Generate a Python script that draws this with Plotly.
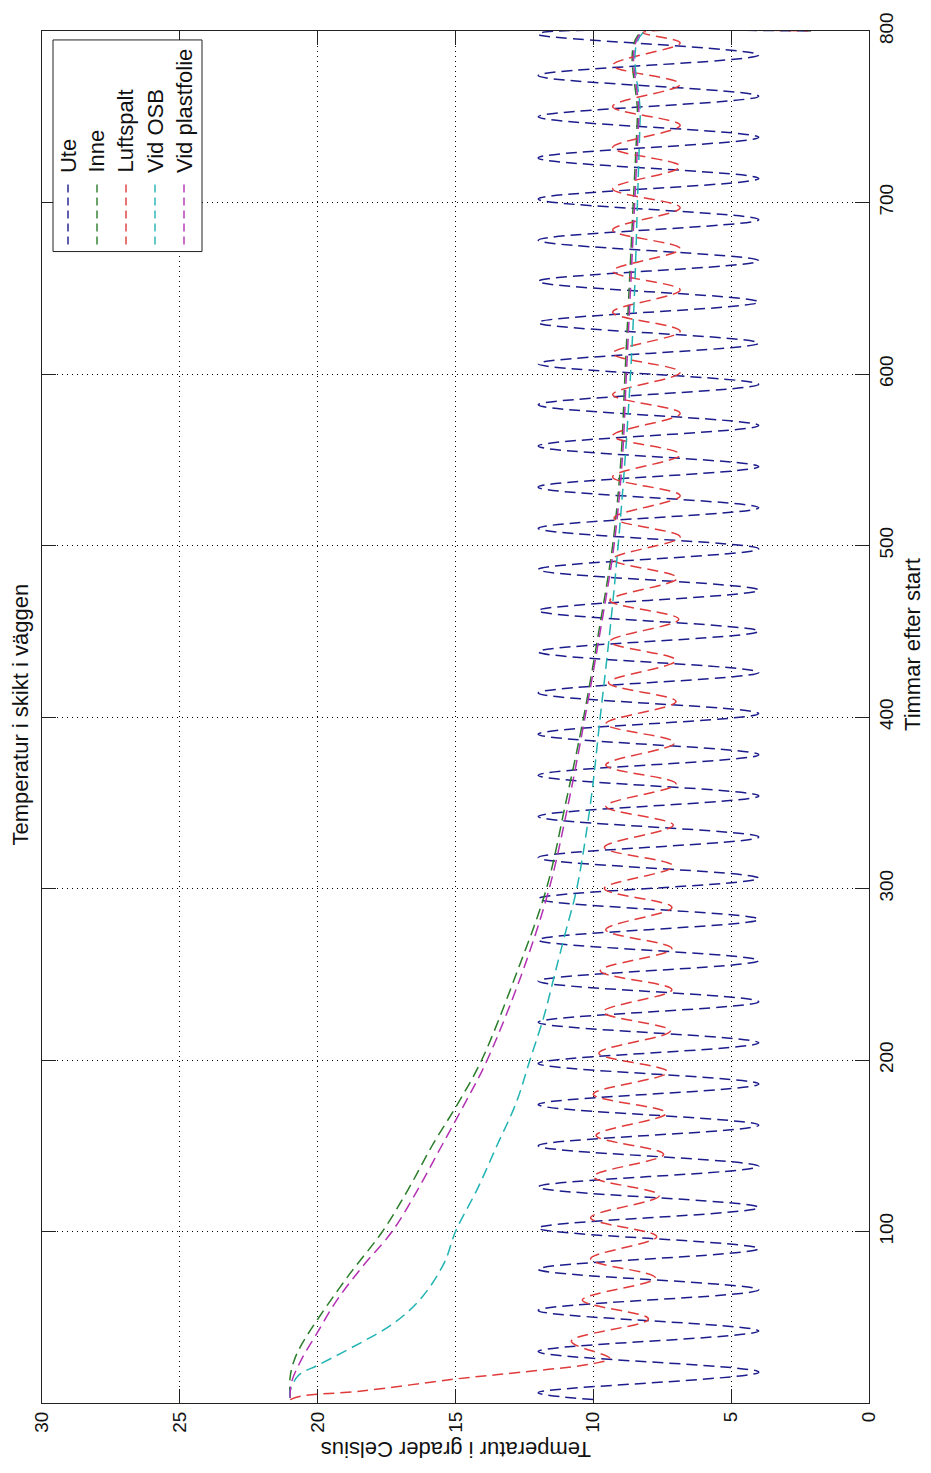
import plotly.graph_objects as go

# ---------------- data ----------------
series_names = ["Ute", "Inne", "Luftspalt", "Vid OSB", "Vid plastfolie"]

# Ute: outdoor temperature, turning points (hours, deg C)
ute_hours = [2, 6, 18, 30, 42, 54, 66, 78, 90, 102, 114, 126, 138, 150, 162, 174,
             186, 198, 210, 222, 234, 246, 258, 270, 282, 294, 306, 318, 330, 342,
             354, 366, 378, 390, 402, 414, 426, 438, 450, 462, 474, 486, 498, 510,
             522, 534, 546, 558, 570, 582, 594, 606, 618, 630, 642, 654, 666, 678,
             690, 702, 714, 726, 738, 750, 762, 774, 786, 798, 799, 800]
ute_temp = [10.0, 12.0, 4.0, 12.0, 4.0, 12.0, 4.0, 12.0, 4.0, 12.0, 4.0, 12.0, 4.0, 12.0, 4.0, 12.0,
            4.0, 12.0, 4.0, 12.0, 4.0, 12.0, 4.0, 12.0, 4.0, 12.0, 4.0, 12.0, 4.0, 12.0,
            4.0, 12.0, 4.0, 12.0, 4.0, 12.0, 4.0, 12.0, 4.0, 12.0, 4.0, 12.0, 4.0, 12.0,
            4.0, 12.0, 4.0, 12.0, 4.0, 12.0, 4.0, 12.0, 4.0, 12.0, 4.0, 12.0, 4.0, 12.0,
            4.0, 12.0, 4.0, 12.0, 4.0, 12.0, 4.0, 12.0, 4.0, 12.0, 11.9, 2.1]

# Inne
inne_hours = [3, 15, 25, 35, 50, 75, 100, 125, 150, 175, 200, 250, 300, 350,
              400, 450, 500, 550, 600, 650, 700, 750, 799, 800]
inne_temp = [21.0, 21.0, 20.85, 20.55, 19.95, 18.85, 17.65, 16.7, 15.85, 14.9, 14.05, 12.8, 11.7, 11.0,
             10.35, 9.8, 9.3, 9.0, 8.85, 8.7, 8.55, 8.4, 8.3, 2.1]

# Luftspalt: start drop then turning points
luft_hours = [2, 4, 7, 14, 18, 23, 26, 36, 49, 60, 73, 84, 97, 108, 121, 132, 145, 156,
              169, 180, 193, 204, 217, 228, 241, 252, 265, 276, 289, 300, 313, 324, 337,
              348, 361, 372, 385, 396, 409, 420, 433, 444, 457, 468, 481, 492, 505, 516,
              529, 540, 553, 564, 577, 588, 601, 612, 625, 636, 649, 660, 673, 684, 697,
              708, 721, 732, 745, 756, 769, 780, 793, 799, 800]
luft_temp = [21.0, 20.6, 18.4, 15.0, 12.6, 10.0, 9.4, 10.8, 8.0, 10.4, 7.75, 10.1, 7.7, 10.1, 7.6, 10.0, 7.45, 9.9,
             7.35, 10.0, 7.3, 9.8, 7.2, 9.65, 7.15, 9.75, 7.15, 9.55, 7.15, 9.6, 7.1, 9.6, 7.1,
             9.55, 7.0, 9.55, 7.05, 9.55, 7.0, 9.45, 7.0, 9.4, 6.9, 9.4, 6.95, 9.3, 6.85, 9.25,
             6.85, 9.3, 6.85, 9.3, 6.85, 9.3, 6.85, 9.3, 6.85, 9.3, 6.85, 9.3, 6.85, 9.3, 6.85,
             9.3, 6.85, 9.3, 6.85, 9.3, 6.85, 9.3, 6.85, 8.2, 2.1]

# Vid OSB
osb_hours = [3, 7, 16, 22, 32, 47, 62, 82, 100, 125, 150, 175, 200, 225, 250, 275, 300,
             350, 400, 450, 500, 550, 600, 650, 700, 750, 799, 800]
osb_temp = [21.0, 21.0, 20.7, 20.0, 18.8, 17.2, 16.2, 15.4, 15.0, 14.2, 13.5, 12.8, 12.3, 11.8, 11.4, 11.0, 10.6,
            10.1, 9.75, 9.4, 9.1, 8.85, 8.65, 8.5, 8.4, 8.3, 8.2, 2.1]

# Vid plastfolie
plast_hours = [3, 12, 25, 40, 60, 80, 100, 125, 150, 175, 200, 250, 300, 350, 400, 450,
               500, 550, 600, 650, 700, 750, 799, 800]
plast_temp = [21.0, 20.95, 20.6, 20.05, 19.3, 18.35, 17.3, 16.35, 15.5, 14.65, 13.85, 12.6, 11.6, 10.9, 10.3, 9.75,
              9.25, 8.95, 8.8, 8.65, 8.5, 8.35, 8.25, 2.1]

temp_ticks = [0, 5, 10, 15, 20, 25, 30]
hour_ticks = [100, 200, 300, 400, 500, 600, 700, 800]

for a, b in [(ute_hours, ute_temp), (inne_hours, inne_temp), (luft_hours, luft_temp),
             (osb_hours, osb_temp), (plast_hours, plast_temp)]:
    assert len(a) == len(b), (len(a), len(b))

# ---------------- styling ----------------
colors = ["#1c1c8c", "#2a7d2a", "#e03a3a", "#22b3b3", "#b431b4"]
data_sets = [(ute_hours, ute_temp), (inne_hours, inne_temp), (luft_hours, luft_temp),
             (osb_hours, osb_temp), (plast_hours, plast_temp)]
FONT = "Liberation Sans, Arial, Helvetica, sans-serif"
FS = 19
FS_TXT = 22
DASH = "11px,6px"

W, H = 931, 1473
L, R, T, B = 42, 62, 22, 70
PW, PH = W - L - R, H - T - B


def px(xp):
    return (xp - L) / PW


def py(yp):
    return (H - B - yp) / PH


fig = go.Figure()
for name, (hrs, tmp), col in zip(series_names, data_sets, colors):
    fig.add_trace(go.Scatter(
        x=tmp, y=hrs, mode="lines", name=name, showlegend=False,
        line=dict(color=col, width=1.5, dash=DASH, shape="spline", smoothing=1.0),
        hoverinfo="skip"))

axis_common = dict(
    ticks="inside", ticklen=14, tickwidth=1, tickcolor="#222",
    showline=True, linecolor="#222", linewidth=1, mirror="ticks",
    showgrid=True, gridcolor="#000", gridwidth=1, griddash="1px,4px",
    zeroline=False, tickangle=-90,
    tickfont=dict(family=FONT, size=FS, color="#111"),
)

fig.update_xaxes(range=[30, 0], tickvals=temp_ticks, **axis_common)
fig.update_yaxes(range=[0, 800], tickvals=hour_ticks, side="right", **axis_common)

shapes = []
annotations = []

# legend box
lg_x0, lg_x1, lg_y0, lg_y1 = 53, 202, 31, 244
shapes.append(dict(type="rect", xref="paper", yref="paper",
                   x0=px(lg_x0), x1=px(lg_x1), y0=py(lg_y1), y1=py(lg_y0),
                   line=dict(color="#222", width=1), fillcolor="white", layer="above"))
col_x = [68, 97, 126, 155, 184]
for name, col, cx in zip(series_names, colors, col_x):
    shapes.append(dict(type="line", xref="paper", yref="paper",
                       x0=px(cx), x1=px(cx), y0=py(237), y1=py(173),
                       line=dict(color=col, width=1.4, dash="8px,5px"), layer="above"))
    annotations.append(dict(text=name, xref="paper", yref="paper",
                            x=px(cx), y=py(167), xanchor="center", yanchor="bottom",
                            textangle=-90, showarrow=False,
                            font=dict(family=FONT, size=FS_TXT, color="#111")))

# titles
annotations.append(dict(text="Temperatur i skikt i väggen", xref="paper", yref="paper",
                        x=px(21), y=py(710), xanchor="center", yanchor="middle",
                        textangle=-90, showarrow=False,
                        font=dict(family=FONT, size=FS_TXT, color="#111")))
annotations.append(dict(text="Timmar efter start", xref="paper", yref="paper",
                        x=px(913), y=py(640), xanchor="center", yanchor="middle",
                        textangle=-90, showarrow=False,
                        font=dict(family=FONT, size=FS_TXT, color="#111")))
annotations.append(dict(text="Temperatur i grader Celsius", xref="paper", yref="paper",
                        x=px(456), y=py(1450), xanchor="center", yanchor="middle",
                        textangle=180, showarrow=False,
                        font=dict(family=FONT, size=FS_TXT, color="#111")))

fig.update_layout(
    width=W, height=H,
    margin=dict(l=L, r=R, t=T, b=B, pad=0),
    paper_bgcolor="white", plot_bgcolor="white",
    showlegend=False,
    shapes=shapes, annotations=annotations,
)

fig.write_html("out.html", config={"displayModeBar": False},
               post_script="document.body.style.margin='0';")
